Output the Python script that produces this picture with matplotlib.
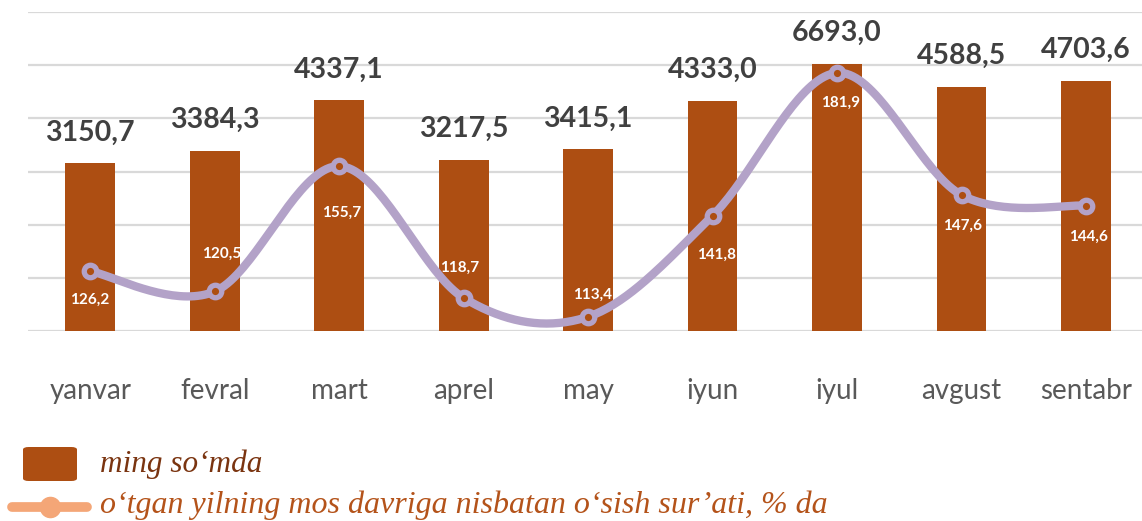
import matplotlib
matplotlib.use("Agg")
import matplotlib.pyplot as plt
import matplotlib.patches as patches
from matplotlib.lines import Line2D
import numpy as np

# data
months = ["yanvar", "fevral", "mart", "aprel", "may", "iyun", "iyul", "avgust", "sentabr"]
amount = [3150.7, 3384.3, 4337.1, 3217.5, 3415.1, 4333.0, 6693.0, 4588.5, 4703.6]
# the source chart draws the iyul bar shorter than its label (about 5030 on its scale)
amount_drawn = [3150.7, 3384.3, 4337.1, 3217.5, 3415.1, 4333.0, 5030.0, 4588.5, 4703.6]
growth = [126.2, 120.5, 155.7, 118.7, 113.4, 141.8, 181.9, 147.6, 144.6]

bar_color = "#AD4E12"
line_color = "#B3A2C8"
legend_line_color = "#F4A677"

W, H = 1142, 521
fig = plt.figure(figsize=(W / 100, H / 100), dpi=100)
ax = fig.add_axes([28 / W, (H - 331) / H, 1 - 28 / W, 319 / H])

x = np.arange(len(months))
ax.bar(x, amount_drawn, width=0.40, color=bar_color, zorder=2)
ax.set_xlim(-0.5, 8.45)
ax.set_ylim(0, 6000)
ax.set_yticks(np.arange(0, 6001, 1000))
ax.grid(axis="y", color="#D9D9D9", linewidth=1.6, zorder=0)
ax.set_axisbelow(True)
for s in ax.spines.values():
    s.set_visible(False)
ax.set_xticks(x)
ax.set_xticklabels(months, fontsize=20, color="#595959", family="Lato")

for xi, h, v in zip(x, amount_drawn, amount):
    ax.annotate(f"{v:.1f}".replace(".", ","), (xi, h), xytext=(0, 31),
                textcoords="offset pixels", ha="center", va="center",
                fontsize=20.5, fontweight="bold", color="#404040", family="Lato",
                zorder=5)

# growth line on a second scale
ax2 = ax.twinx()
ax2.set_ylim(109.4, 199.0)
ax2.axis("off")
ax.tick_params(axis="y", left=False, right=False, labelleft=False)
ax.tick_params(axis="x", bottom=False, pad=30)

# smooth curve (bezier through points, like a spreadsheet smoothed line)
sx, sy = 124.4, 3.558
P = np.column_stack([x * sx, np.array(growth) * sy])
curve = []
n = len(P)
for i in range(n - 1):
    p0 = P[max(i - 1, 0)]
    p1 = P[i]
    p2 = P[i + 1]
    p3 = P[min(i + 2, n - 1)]
    c1 = p1 + (p2 - p0) / 6
    c2 = p2 - (p3 - p1) / 6
    t = np.linspace(0, 1, 40)[:, None]
    seg = (1 - t) ** 3 * p1 + 3 * (1 - t) ** 2 * t * c1 + 3 * (1 - t) * t ** 2 * c2 + t ** 3 * p2
    curve.append(seg)
curve = np.vstack(curve)
ax2.plot(curve[:, 0] / sx, curve[:, 1] / sy, color=line_color, linewidth=6,
         solid_capstyle="round", zorder=3)
ax2.plot(x, growth, linestyle="none", marker="o", markersize=9,
         markerfacecolor=bar_color, markeredgecolor=line_color, markeredgewidth=3.8,
         zorder=4)

label_offsets = [(-1, -29), (7, 38), (2, -47), (-4, 30), (4, 22),
                 (4, -39), (3, -30), (1, -31), (2, -31)]
for xi, v, (dx, dy) in zip(x, growth, label_offsets):
    ax2.annotate(f"{v:.1f}".replace(".", ","), (xi, v), xytext=(dx, dy),
                 textcoords="offset pixels", ha="center", va="center",
                 fontsize=11, fontweight="bold", color="white",
                 family="Lato", zorder=5)

# legend drawn by hand
def fx(px):
    return px / W

def fy(py):
    return 1 - py / H

box = patches.FancyBboxPatch((fx(23), fy(481)), fx(54), 34 / H,
                             boxstyle="round,pad=0,rounding_size=0.005",
                             transform=fig.transFigure, facecolor=bar_color,
                             edgecolor="none")
fig.patches.append(box)
fig.text(fx(100), fy(472), "ming so\u2018mda", fontsize=22.5, style="italic",
         family="Liberation Serif", color="#7A3410", va="baseline")

fig.lines.append(Line2D([fx(12), fx(87)], [fy(507), fy(507)], transform=fig.transFigure,
                        color=legend_line_color, linewidth=7, solid_capstyle="round"))
fig.lines.append(Line2D([fx(50)], [fy(507)], transform=fig.transFigure, marker="o",
                        markersize=14.5, color=legend_line_color))
fig.text(fx(100), fy(513), "o\u2018tgan yilning mos davriga nisbatan o\u2018sish sur\u2019ati, % da",
         fontsize=23, style="italic", family="Liberation Serif", color="#B4531A",
         va="baseline")

fig.savefig("out.png", dpi=100)
